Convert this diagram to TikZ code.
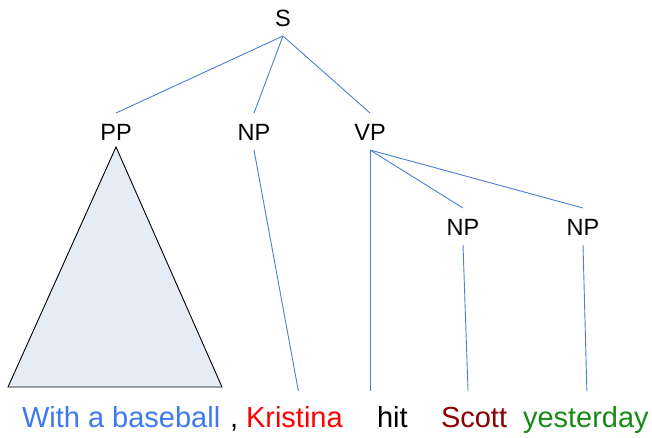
\documentclass[tikz,border=0pt]{standalone}
\usepackage{fontspec}
\setmainfont{Liberation Sans}
\definecolor{edgeblue}{HTML}{4A7FD4}
\definecolor{trifill}{HTML}{E6ECF6}
\definecolor{wblue}{HTML}{3D79F2}
\definecolor{wred}{HTML}{FF0000}
\definecolor{wdark}{HTML}{8B0000}
\definecolor{wgreen}{HTML}{168C16}
\tikzset{
  cat/.style={font=\fontsize{23.5}{26}\selectfont, text height=17pt, text depth=0pt,
    inner xsep=1pt, inner ysep=10pt, outer sep=0pt, anchor=base},
  word/.style={font=\fontsize{29}{32}\selectfont, text height=21pt, text depth=0pt,
    inner xsep=0pt, inner ysep=15pt, outer sep=0pt, anchor=base west},
  edge/.style={draw=edgeblue, line width=0.9pt},
  tri/.style={draw=black, line width=0.9pt, fill=trifill, line join=miter}
}
\begin{document}
\begin{tikzpicture}[x=1pt,y=-1pt]
\useasboundingbox (0,0) rectangle (652,437);
% categories
\node[cat] (S) at (283,26) {S};
\node[cat] (PP) at (116,140) {PP};
\node[cat] (NPa) at (254,140) {NP};
\node[cat] (VP) at (370,140) {VP};
\node[cat] (NPb) at (463,235) {NP};
\node[cat] (NPc) at (583,235) {NP};
% words
\node[word, text=wblue] (w1) at (22,427) {With a baseball};
\node[word] (comma) at (230,427) {,};
\node[word, text=wred] (w2) at (246,427) {Kristina};
\node[word] (w3) at (377,427) {hit};
\node[word, text=wdark] (w4) at (441,427) {Scott};
\node[word, text=wgreen] (w5) at (523,427) {yesterday};
% triangle
\coordinate (tl) at (8,387);
\coordinate (tr) at (222,387);
\draw[tri] ([yshift=3pt]PP.south) -- (tl) -- (tr) -- cycle;
% edges
\draw[edge] (S.south) -- (PP.north);
\draw[edge] (S.south) -- (NPa.north);
\draw[edge] (S.south) -- (VP.north);
\draw[edge] (VP.south) -- (NPb.north);
\draw[edge] (VP.south) -- (NPc.north);
\draw[edge] (NPa.south) -- ([xshift=4pt]w2.north);
\draw[edge] (VP.south) -- (VP.south |- w3.north);
\draw[edge] (NPb.south) -- ([xshift=-6pt]w4.north);
\draw[edge] (NPc.south) -- ([xshift=1pt]w5.north);
\end{tikzpicture}
\end{document}
